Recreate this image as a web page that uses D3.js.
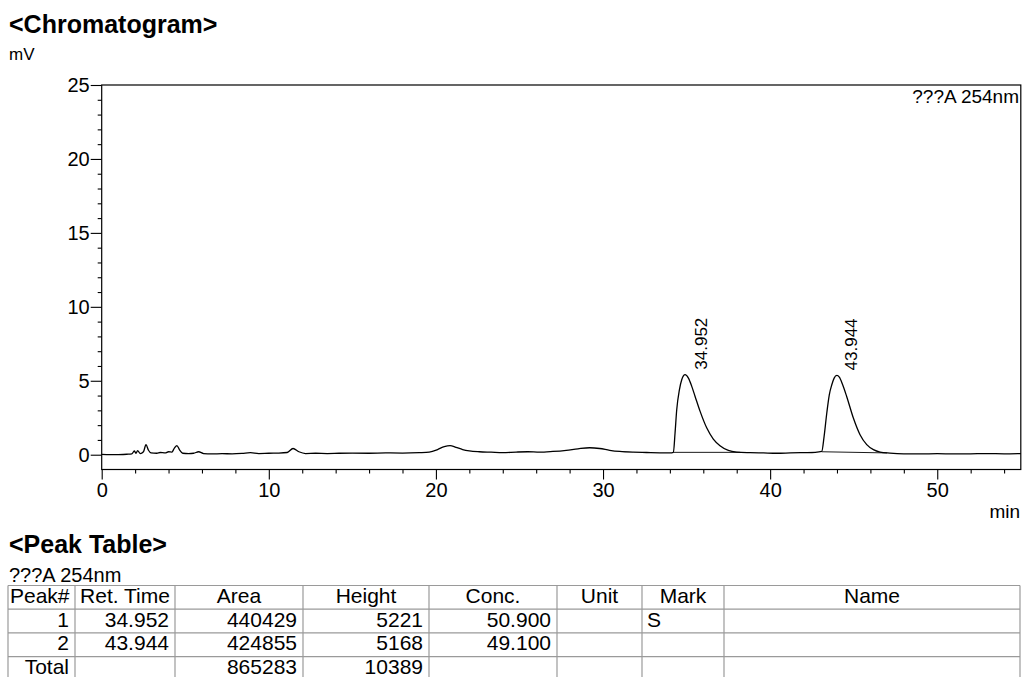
<!DOCTYPE html>
<html>
<head>
<meta charset="utf-8">
<script src="https://cdn.jsdelivr.net/npm/d3@7"></script>
<style>
  body { margin: 0; background: #fff; }
  text { font-family: "Liberation Sans", Arial, sans-serif; fill: #000; }
</style>
</head>
<body>
<script>
// trace (min, mV)
const traceTime = [
  0, 0.5, 1.0, 1.5, 1.8, 1.95, 2.05, 2.15, 2.3, 2.5, 2.65, 2.8, 2.95, 3.3, 3.5, 3.8, 4.0, 4.2, 4.35, 4.5,
  4.65, 4.85, 5.2, 5.5, 5.8, 6.1, 6.6, 7.2, 7.8, 8.4, 8.9, 9.4, 10.0, 10.6, 11.1, 11.45, 11.8, 12.2, 12.8, 13.5,
  14.2, 15.0, 16.0, 17.0, 18.0, 19.0, 19.6, 20.1, 20.5, 20.85, 21.2, 21.6, 22.0, 22.6, 23.3, 24.0, 24.8, 25.5, 26.2, 27.0,
  27.8, 28.5, 29.2, 29.8, 30.4, 31.0, 31.8, 32.6, 33.4, 34.0, 34.21, 34.31, 34.41, 34.57, 34.71, 34.91, 35.11, 35.31, 35.51, 35.81,
  36.21, 36.6, 37.0, 37.5, 38.0, 38.8, 39.6, 40.4, 41.2, 42.0, 42.7, 43.09, 43.23, 43.39, 43.54, 43.69, 43.83, 43.99, 44.14, 44.34,
  44.58, 44.98, 45.38, 45.78, 46.18, 46.58, 47.17, 48.0, 49.0, 50.0, 51.0, 52.0, 53.0, 54.0, 55.0
];
const traceMv = [
  0.02, 0.0, 0.01, 0.03, 0.05, 0.25, 0.1, 0.28, 0.08, 0.2, 0.68, 0.3, 0.12, 0.1, 0.15, 0.12, 0.2, 0.18, 0.45, 0.62,
  0.35, 0.1, 0.08, 0.1, 0.2, 0.08, 0.05, 0.07, 0.06, 0.09, 0.14, 0.08, 0.1, 0.11, 0.15, 0.42, 0.2, 0.08, 0.1, 0.08,
  0.1, 0.11, 0.1, 0.12, 0.11, 0.14, 0.18, 0.35, 0.55, 0.62, 0.5, 0.35, 0.26, 0.2, 0.17, 0.14, 0.18, 0.2, 0.17, 0.22,
  0.3, 0.4, 0.47, 0.42, 0.3, 0.22, 0.17, 0.15, 0.13, 0.12, 0.16, 1.47, 3.04, 4.39, 5.07, 5.41, 5.18, 4.62, 3.94, 2.93,
  1.8, 1.06, 0.61, 0.29, 0.18, 0.14, 0.12, 0.1, 0.12, 0.14, 0.16, 0.22, 1.24, 2.82, 4.05, 4.73, 5.18, 5.36, 5.25, 4.73,
  3.94, 2.48, 1.35, 0.68, 0.34, 0.18, 0.11, 0.06, 0.05, 0.07, 0.05, 0.06, 0.08, 0.06, 0.08
];

// peaks: retention time, apex, integration baseline
const peakRetTime = [34.952, 43.944];
const peakApexMv = [5.41, 5.36];
const baseStart = [[34.21, 0.16], [43.09, 0.2]];
const baseEnd = [[38.2, 0.16], [47.0, 0.12]];

// axis ticks
const xMajor = [0, 10, 20, 30, 40, 50];
const xMinor = [2, 4, 6, 8, 12, 14, 16, 18, 22, 24, 26, 28, 32, 34, 36, 38, 42, 44, 46, 48, 52, 54];
const yMajor = [0, 5, 10, 15, 20, 25];
const yMinor = d3.range(1, 25).filter(v => v % 5 !== 0);

// peak table
const tableHeader = ["Peak#", "Ret. Time", "Area", "Height", "Conc.", "Unit", "Mark", "Name"];
const peakNo = ["1", "2", "Total"];
const retTime = ["34.952", "43.944", ""];
const area = ["440429", "424855", "865283"];
const heightVal = ["5221", "5168", "10389"];
const conc = ["50.900", "49.100", ""];
const unit = ["", "", ""];
const mark = ["S", "", ""];
const name = ["", "", ""];

const width = 1022;
const height = 677;
const plot = { left: 101.7, right: 1020.8, top: 85, bottom: 469.5 };

const svg = d3.select("body")
  .append("svg")
  .attr("width", width)
  .attr("height", height);

// scales
const x = d3.scaleLinear().domain([0, 55]).range([plot.left, plot.right]);
const y = d3.scaleLinear().domain([-1, 25]).range([plot.bottom, plot.top]);

// titles
svg.append("text").attr("x", 9).attr("y", 33)
  .style("font-size", "25px").style("font-weight", "bold")
  .text("<Chromatogram>");
svg.append("text").attr("x", 9).attr("y", 60)
  .style("font-size", "17px").text("mV");

// frame
svg.append("rect")
  .attr("x", plot.left).attr("y", plot.top)
  .attr("width", plot.right - plot.left).attr("height", plot.bottom - plot.top)
  .attr("fill", "none").attr("stroke", "#000").attr("stroke-width", 1.2);

// y axis
svg.append("g")
  .attr("transform", `translate(${plot.left},0)`)
  .call(d3.axisLeft(y).tickValues(yMajor).tickSize(11).tickSizeOuter(0).tickPadding(1));
svg.append("g")
  .attr("transform", `translate(${plot.left},0)`)
  .call(d3.axisLeft(y).tickValues(yMinor).tickSize(4).tickSizeOuter(0).tickFormat(""));

// x axis
svg.append("g")
  .attr("transform", `translate(0,${plot.bottom})`)
  .call(d3.axisBottom(x).tickValues(xMajor).tickSize(10).tickSizeOuter(0).tickPadding(3));
svg.append("g")
  .attr("transform", `translate(0,${plot.bottom})`)
  .call(d3.axisBottom(x).tickValues(xMinor).tickSize(4).tickSizeOuter(0).tickFormat(""));

svg.selectAll(".domain").remove();
svg.selectAll(".tick line").attr("stroke", "#000").attr("stroke-width", 1.1);
svg.selectAll(".tick text")
  .style("font-size", "20px")
  .style("font-family", "'Liberation Sans', Arial, sans-serif")
  .attr("fill", "#000");

svg.append("text").attr("x", 1020).attr("y", 518)
  .attr("text-anchor", "end").style("font-size", "19px").text("min");

svg.append("text").attr("x", 1019).attr("y", 103)
  .attr("text-anchor", "end").style("font-size", "19px").text("???A 254nm");

// trace
const points = traceTime.map((t, i) => [t, traceMv[i]]);
const line = d3.line()
  .x(d => x(d[0]))
  .y(d => y(d[1]))
  .curve(d3.curveMonotoneX);

svg.append("path")
  .datum(points)
  .attr("d", line)
  .attr("fill", "none")
  .attr("stroke", "#000")
  .attr("stroke-width", 1.3);

// integration baselines
svg.selectAll(".base")
  .data(baseStart)
  .enter()
  .append("line")
  .attr("class", "base")
  .attr("x1", d => x(d[0]))
  .attr("y1", d => y(d[1]))
  .attr("x2", (d, i) => x(baseEnd[i][0]))
  .attr("y2", (d, i) => y(baseEnd[i][1]))
  .attr("stroke", "#000")
  .attr("stroke-width", 0.9);

// peak labels
svg.selectAll(".peak-label")
  .data(peakRetTime)
  .enter()
  .append("text")
  .attr("class", "peak-label")
  .attr("transform", (d, i) => `translate(${x(d) + 21},${y(peakApexMv[i]) - 5}) rotate(-90)`)
  .style("font-size", "17px")
  .text(d => d.toFixed(3));

// peak table
svg.append("text").attr("x", 9).attr("y", 553)
  .style("font-size", "25px").style("font-weight", "bold")
  .text("<Peak Table>");
svg.append("text").attr("x", 9).attr("y", 582)
  .style("font-size", "20px").text("???A 254nm");

const colEdges = [8, 75, 175, 303, 429, 557, 642, 724, 1020];
const rowTop = 585.5;
const rowH = 23.7;
const columns = [peakNo, retTime, area, heightVal, conc, unit, mark, name];
const colAlign = ["end", "end", "end", "end", "end", "end", "start", "start"];

const table = svg.append("g");

// grid
d3.range(5).forEach(r => {
  table.append("line")
    .attr("x1", colEdges[0]).attr("x2", colEdges[colEdges.length - 1])
    .attr("y1", rowTop + r * rowH).attr("y2", rowTop + r * rowH)
    .attr("stroke", "#9a9a9a").attr("stroke-width", 1.2);
});
colEdges.forEach(cx => {
  table.append("line")
    .attr("x1", cx).attr("x2", cx)
    .attr("y1", rowTop).attr("y2", rowTop + 4 * rowH)
    .attr("stroke", "#9a9a9a").attr("stroke-width", 1.2);
});

// header
tableHeader.forEach((h, c) => {
  const left = colEdges[c], right = colEdges[c + 1];
  table.append("text")
    .attr("x", c === 0 ? left + 2 : (left + right) / 2)
    .attr("y", rowTop + 17.5)
    .attr("text-anchor", c === 0 ? "start" : "middle")
    .style("font-size", "21px")
    .text(h);
});

// rows
columns.forEach((col, c) => {
  const left = colEdges[c], right = colEdges[c + 1];
  col.forEach((v, r) => {
    if (!v) return;
    table.append("text")
      .attr("x", colAlign[c] === "end" ? right - 6 : left + 5)
      .attr("y", rowTop + (r + 1) * rowH + 17.5)
      .attr("text-anchor", colAlign[c])
      .style("font-size", "21px")
      .text(v);
  });
});
</script>
</body>
</html>
